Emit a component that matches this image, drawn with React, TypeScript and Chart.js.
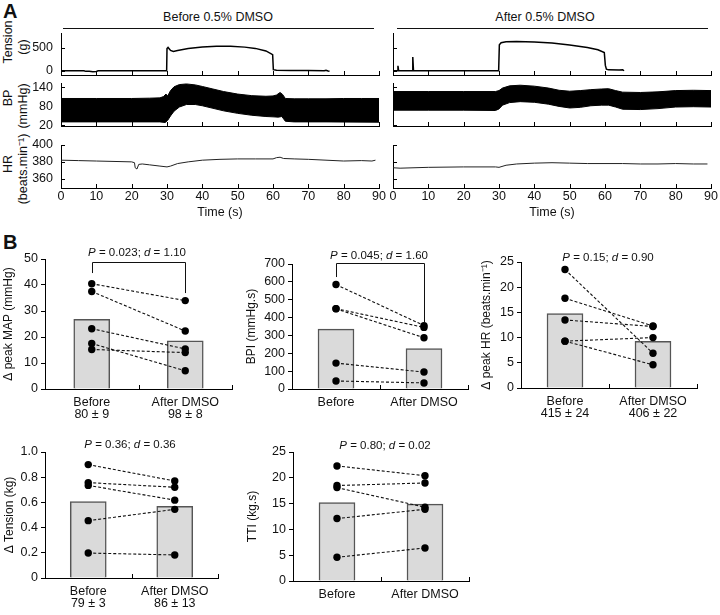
import React, { useEffect, useRef } from 'react';
import { Chart, registerables } from 'chart.js';
Chart.register(...registerables);

const FONT = "'Liberation Sans', Arial, Helvetica, sans-serif";
Chart.defaults.font.family = FONT;
Chart.defaults.color = '#111';

// ---------------- Panel A data (time s, value) ----------------
const timeTicks = [0, 10, 20, 30, 40, 50, 60, 70, 80, 90];
const tensionTicks = [0, 500];
const bpTicks = [20, 80, 140];
const hrTicks = [360, 380, 400];

const tensionBefore: [number, number][] = [
  [0, 6], [6.5, 6], [7, -8], [8, -6], [9, -14], [10, -10], [10.5, 3], [29.9, 3],
  [30, 480], [30.3, 505], [31, 440], [31.8, 420], [33, 440], [36, 482], [40, 515],
  [44, 532], [48, 530], [52, 512], [55, 485], [58, 430], [59.9, 350], [60.1, 28],
  [61, 15], [65, 12], [70, 8], [74.5, 6], [75, 16], [75.6, 2], [76, -4],
];
const tensionAfter: [number, number][] = [
  [0, 5], [1.2, 5], [1.4, 110], [1.6, 5], [5.4, 5], [5.6, 300], [5.8, 5], [29.9, 5],
  [30.1, 560], [30.6, 605], [32, 625], [35, 632], [40, 622], [45, 598], [50, 560],
  [55, 505], [58, 455], [59.8, 398], [60.1, 120], [60.4, 40], [61, 24], [64, 22],
  [65, 26], [65.4, 5],
];

const bpBeforeUpper: [number, number][] = [
  [0, 105], [10, 105], [20, 105], [25, 106], [28, 107], [29, 111], [29.7, 119], [30.2, 113],
  [31, 130], [32, 142], [33.5, 149], [35.5, 151], [38, 148], [40, 143], [43, 135], [46, 127],
  [50, 119], [54, 114], [58, 112], [60, 113], [61, 116], [62, 124], [62.7, 118], [63.5, 105],
  [66, 104], [70, 104], [75, 104], [80, 105], [85, 105], [90, 105],
];
const bpBeforeLower: [number, number][] = [
  [0, 31], [10, 31], [20, 31], [28, 31], [29.5, 29], [30.2, 36], [31, 50], [32, 65],
  [33.5, 78], [35.5, 86], [38, 86], [40, 82], [43, 74], [46, 66], [50, 58], [54, 52],
  [58, 48], [60, 47], [61.5, 46], [62.5, 48], [63.5, 33], [66, 31], [75, 31], [90, 30],
];
const bpAfterUpper: [number, number][] = [
  [0, 127], [10, 127], [20, 127], [29, 127], [30, 130], [31, 138], [33, 145], [36, 147],
  [40, 144], [44, 138], [47, 131], [50, 128], [53, 130], [56, 133], [59, 135], [61, 136],
  [63, 130], [65, 125], [70, 124], [75, 126], [80, 130], [85, 131], [90, 130],
];
const bpAfterLower: [number, number][] = [
  [0, 68], [10, 68], [20, 68], [29, 67], [30, 72], [31, 84], [33, 92], [36, 95],
  [40, 93], [44, 87], [47, 80], [50, 75], [53, 77], [56, 82], [59, 84], [61, 84],
  [63, 78], [65, 71], [70, 70], [75, 73], [80, 78], [85, 79], [90, 78],
];

const hrBefore: [number, number][] = [
  [0, 382], [5, 381.5], [10, 381], [15, 380.5], [20, 380], [20.8, 379], [21, 373],
  [21.5, 371.5], [22, 377], [23, 377.5], [25, 376.5], [28, 375], [30, 374], [31, 375],
  [33, 378], [36, 380], [40, 382], [45, 383], [50, 383.5], [55, 383.5], [60, 383.5],
  [61, 385], [62, 385.5], [63, 384], [66, 383.5], [70, 383], [75, 382], [80, 381],
  [85, 381.5], [88, 381], [89, 382],
];
const hrAfter: [number, number][] = [
  [0, 373], [2, 372.5], [10, 373.5], [20, 374], [29, 374], [30, 373.5], [32, 376],
  [35, 377.5], [40, 378.5], [45, 379], [50, 378.5], [55, 378], [60, 378], [65, 378],
  [70, 377.5], [75, 377.5], [80, 378], [85, 377.5], [89, 377.5],
];

// ---------------- Panel B data ----------------
const mapLabels = [['Before', '80 ± 9'], ['After DMSO', '98 ± 8']];
const mapBars = [26.8, 18.5];
const mapBefore = [40.5, 37.5, 23.2, 17.5, 15.2];
const mapAfter = [34.0, 22.3, 15.4, 7.0, 14.0];

const bpiLabels = ['Before', 'After DMSO'];
const bpiBars = [335, 227];
const bpiBefore = [585, 450, 449, 145, 45];
const bpiAfter = [355, 345, 287, 95, 34];

const hrLabels = [['Before', '415 ± 24'], ['After DMSO', '406 ± 22']];
const hrBars = [14.75, 9.25];
const hrPeakBefore = [23.5, 17.8, 13.5, 9.3, 9.3];
const hrPeakAfter = [6.9, 12.3, 12.2, 10.0, 4.6];

const tenLabels = [['Before', '79 ± 3'], ['After DMSO', '86 ± 13']];
const tenBars = [0.607, 0.568];
const tenBefore = [0.90, 0.757, 0.735, 0.455, 0.198];
const tenAfter = [0.77, 0.72, 0.618, 0.545, 0.183];

const ttiLabels = ['Before', 'After DMSO'];
const ttiBars = [15.2, 14.9];
const ttiBefore = [22.3, 18.5, 18.1, 12.1, 4.6];
const ttiAfter = [20.4, 19.0, 14.3, 13.9, 6.4];

// ---------------- plugins ----------------
const inTicks = {
  id: 'inTicks',
  afterDraw(chart: any, _a: any, opts: any) {
    if (!opts) return;
    const { ctx, chartArea } = chart;
    const len = opts.len ?? 4;
    ctx.save();
    ctx.strokeStyle = '#000';
    ctx.lineWidth = 1;
    ctx.beginPath();
    if (opts.x) {
      const s = chart.scales.x;
      s.ticks.forEach((t: any) => {
        const px = Math.round(s.getPixelForValue(t.value)) + 0.5;
        ctx.moveTo(px, chartArea.bottom);
        ctx.lineTo(px, chartArea.bottom - len);
      });
    }
    if (opts.y) {
      const s = chart.scales.y;
      s.ticks.forEach((t: any) => {
        const py = Math.round(s.getPixelForValue(t.value)) + 0.5;
        ctx.moveTo(chartArea.left, py);
        ctx.lineTo(chartArea.left + len, py);
      });
    }
    if (opts.xBound) {
      const s = chart.scales.x;
      const mid = (s.getPixelForValue(0) + s.getPixelForValue(1)) / 2;
      [mid, chartArea.right - 0.5].forEach((px: number) => {
        const p = Math.round(px) + 0.5;
        ctx.moveTo(p, chartArea.bottom);
        ctx.lineTo(p, chartArea.bottom - len);
      });
    }
    ctx.stroke();
    ctx.restore();
  },
};

const bracket = {
  id: 'bracket',
  afterDatasetsDraw(chart: any, _a: any, opts: any) {
    if (!opts || opts.top == null) return;
    const { ctx } = chart;
    const xs = chart.scales.x, ys = chart.scales.y;
    const x0 = Math.round(xs.getPixelForValue(0)) + 0.5;
    const x1 = Math.round(xs.getPixelForValue(1)) + 0.5;
    const yt = Math.round(ys.getPixelForValue(opts.top)) + 0.5;
    ctx.save();
    ctx.strokeStyle = '#111';
    ctx.lineWidth = 1;
    ctx.beginPath();
    ctx.moveTo(x0, ys.getPixelForValue(opts.left));
    ctx.lineTo(x0, yt);
    ctx.lineTo(x1, yt);
    ctx.lineTo(x1, ys.getPixelForValue(opts.right));
    ctx.stroke();
    ctx.restore();
  },
};

const toXY = (arr: [number, number][]) => arr.map(([x, y]) => ({ x, y }));

const fitY = (W: number) => (s: any) => {
  s.width = W;
  s.paddingTop = 0; s.paddingBottom = 0; s.paddingLeft = 0; s.paddingRight = 0;
};
const fitX = (H: number) => (s: any) => {
  s.height = H;
  s.paddingTop = 0; s.paddingBottom = 0; s.paddingLeft = 0; s.paddingRight = 0;
};

// ---------------- config builders ----------------
type TraceP = {
  datasets: any[];
  ymin: number; ymax: number; yticks: number[];
  yLabels: boolean; xLabels: boolean;
  W: number; T: number; H: number; R: number;
};

function traceConfig(p: TraceP): any {
  return {
    type: 'line',
    data: { datasets: p.datasets },
    plugins: [inTicks],
    options: {
      animation: false,
      responsive: false,
      devicePixelRatio: 1,
      layout: { padding: { left: 0, top: p.T, right: p.R, bottom: 0 } },
      plugins: { legend: { display: false }, tooltip: { enabled: false }, inTicks: { x: true, y: true, len: 4 } },
      elements: { point: { radius: 0 }, line: { tension: 0 } },
      scales: {
        x: {
          type: 'linear', min: 0, max: 90,
          afterBuildTicks: (s: any) => { s.ticks = timeTicks.map((v) => ({ value: v })); },
          afterFit: fitX(p.H),
          grid: { display: false, drawTicks: false },
          border: { display: true, color: '#000', width: 1 },
          ticks: { display: p.xLabels, padding: 1, maxRotation: 0, autoSkip: false, color: '#111', font: { size: 12.5, family: FONT } },
          title: { display: p.xLabels, text: 'Time (s)', color: '#111', padding: { top: 0, bottom: 0 }, font: { size: 12.5, family: FONT } },
        },
        y: {
          type: 'linear', min: p.ymin, max: p.ymax,
          afterBuildTicks: (s: any) => { s.ticks = p.yticks.map((v) => ({ value: v })); },
          afterFit: fitY(p.W),
          grid: { display: false, drawTicks: false },
          border: { display: true, color: '#000', width: 1 },
          ticks: { display: p.yLabels, autoSkip: false, padding: 8, color: '#111', font: { size: 12.5, family: FONT } },
        },
      },
    },
  };
}

type BarP = {
  labels: any[]; bars: number[]; before: number[]; after: number[];
  ymax: number; step: number; title: string; titlePad: number;
  W: number; T: number; H: number; R: number;
  bracket?: { top: number; left: number; right: number };
  fmt?: (v: number) => string;
};

function barConfig(p: BarP): any {
  const lines = p.before.map((b, i) => ({
    type: 'line',
    data: [b, p.after[i]],
    borderColor: '#111',
    borderWidth: 1.1,
    borderDash: [3, 2],
    pointRadius: 3.7,
    pointBackgroundColor: '#000',
    pointBorderColor: '#000',
    pointBorderWidth: 0,
    fill: false,
    order: 1,
  }));
  return {
    type: 'bar',
    data: {
      labels: p.labels,
      datasets: [
        { type: 'bar', data: p.bars, backgroundColor: '#dadada', borderColor: '#555', borderWidth: 1.5, barThickness: 36, order: 2 },
        ...lines,
      ],
    },
    plugins: [inTicks, bracket],
    options: {
      animation: false,
      responsive: false,
      devicePixelRatio: 1,
      layout: { padding: { left: 0, top: p.T, right: p.R, bottom: 0 } },
      plugins: {
        legend: { display: false }, tooltip: { enabled: false },
        inTicks: { xBound: true, len: 4 },
        bracket: p.bracket ?? {},
      },
      scales: {
        x: {
          type: 'category', offset: true,
          afterFit: fitX(p.H),
          grid: { display: false, drawTicks: false },
          border: { display: true, color: '#000', width: 1 },
          ticks: { padding: 7, maxRotation: 0, autoSkip: false, color: '#111', font: { size: 12.5, family: FONT, lineHeight: 0.98 } },
        },
        y: {
          type: 'linear', min: 0, max: p.ymax,
          afterFit: fitY(p.W),
          grid: { display: true, drawOnChartArea: false, drawTicks: true, tickLength: 4, color: '#000' },
          border: { display: true, color: '#000', width: 1 },
          ticks: {
            stepSize: p.step, autoSkip: false, padding: 3, color: '#111', font: { size: 12.5, family: FONT },
            callback: p.fmt ? (v: any) => p.fmt!(Number(v)) : undefined,
          },
          title: { display: true, text: p.title, color: '#111', padding: { top: p.titlePad, bottom: 0 }, font: { size: 12, family: FONT } },
        },
      },
    },
  };
}

// ---------------- components ----------------
function ChartBox({ left, top, width, height, make }: { left: number; top: number; width: number; height: number; make: () => any }) {
  const ref = useRef<HTMLCanvasElement>(null);
  useEffect(() => {
    const c = new Chart(ref.current!, make());
    return () => c.destroy();
  }, []);
  return (
    <canvas ref={ref} width={width} height={height}
      style={{ position: 'absolute', left, top, width, height }} />
  );
}

const txt: React.CSSProperties = { position: 'absolute', fontFamily: FONT, color: '#111', whiteSpace: 'nowrap', lineHeight: 1 };

function VText({ x, y, children }: { x: number; y: number; children: React.ReactNode }) {
  return (
    <div style={{ ...txt, left: x, top: y, fontSize: 12.5, transform: 'translate(-50%, -50%) rotate(-90deg)' }}>{children}</div>
  );
}
function CText({ x, y, size = 12.5, children }: { x: number; y: number; size?: number; children: React.ReactNode }) {
  return (
    <div style={{ ...txt, left: x, top: y, fontSize: size, transform: 'translate(-50%, -50%)' }}>{children}</div>
  );
}
function Stat({ x, y, p, d }: { x: number; y: number; p: string; d: string }) {
  return (
    <CText x={x} y={y} size={11.5}><i>P</i> = {p}; <i>d</i> = {d}</CText>
  );
}

export default function App() {
  const bW = 61, aW = 8;
  const plotW = 318;
  return (
    <div style={{ position: 'absolute', left: 0, top: 0, width: 720, height: 615, background: '#fff', overflow: 'hidden' }}>
      {/* Panel letters */}
      <div style={{ ...txt, left: 3, top: 1, fontSize: 20, fontWeight: 'bold' }}>A</div>
      <div style={{ ...txt, left: 3, top: 232, fontSize: 20, fontWeight: 'bold' }}>B</div>

      {/* Headers */}
      <CText x={218} y={17}>Before 0.5% DMSO</CText>
      <div style={{ position: 'absolute', left: 63, top: 28, width: 311, height: 0, borderTop: '1.5px solid #111' }} />
      <CText x={545} y={17}>After 0.5% DMSO</CText>
      <div style={{ position: 'absolute', left: 397, top: 28, width: 311, height: 0, borderTop: '1.5px solid #111' }} />

      {/* A axis titles */}
      <VText x={8} y={42}>Tension</VText>
      <VText x={23} y={47}>(g)</VText>
      <VText x={8} y={98}>BP</VText>
      <VText x={23} y={106}>(mmHg)</VText>
      <VText x={8} y={164}>HR</VText>
      <VText x={23} y={169}>(beats.min⁻¹)</VText>

      {/* A: Before column */}
      <ChartBox left={0} top={29} width={bW + plotW + 2} height={49} make={() => traceConfig({
        datasets: [{ data: toXY(tensionBefore), borderColor: '#000', borderWidth: 1.5, pointRadius: 0 }],
        ymin: -86, ymax: 815, yticks: tensionTicks, yLabels: true, xLabels: false, W: bW, T: 4, H: 3, R: 2,
      })} />
      <ChartBox left={0} top={79} width={bW + plotW + 2} height={50} make={() => traceConfig({
        datasets: [
          { data: toXY(bpBeforeLower), borderColor: '#000', borderWidth: 1, pointRadius: 0, fill: false },
          { data: toXY(bpBeforeUpper), borderColor: '#000', borderWidth: 1, pointRadius: 0, fill: '-1', backgroundColor: '#000' },
        ],
        ymin: 18, ymax: 154, yticks: bpTicks, yLabels: true, xLabels: false, W: bW, T: 4, H: 3, R: 2,
      })} />
      <ChartBox left={0} top={137} width={bW + plotW + 12} height={83} make={() => traceConfig({
        datasets: [{ data: toXY(hrBefore), borderColor: '#222', borderWidth: 1, pointRadius: 0 }],
        ymin: 349, ymax: 400, yticks: hrTicks, yLabels: true, xLabels: true, W: bW, T: 8, H: 32, R: 12,
      })} />

      {/* A: After column */}
      <ChartBox left={393 - aW} top={29} width={aW + plotW + 2} height={49} make={() => traceConfig({
        datasets: [{ data: toXY(tensionAfter), borderColor: '#000', borderWidth: 1.5, pointRadius: 0 }],
        ymin: -86, ymax: 815, yticks: tensionTicks, yLabels: false, xLabels: false, W: aW, T: 4, H: 3, R: 2,
      })} />
      <ChartBox left={393 - aW} top={79} width={aW + plotW + 2} height={50} make={() => traceConfig({
        datasets: [
          { data: toXY(bpAfterLower), borderColor: '#000', borderWidth: 1, pointRadius: 0, fill: false },
          { data: toXY(bpAfterUpper), borderColor: '#000', borderWidth: 1, pointRadius: 0, fill: '-1', backgroundColor: '#000' },
        ],
        ymin: 18, ymax: 154, yticks: bpTicks, yLabels: false, xLabels: false, W: aW, T: 4, H: 3, R: 2,
      })} />
      <ChartBox left={393 - aW} top={137} width={aW + plotW + 9} height={83} make={() => traceConfig({
        datasets: [{ data: toXY(hrAfter), borderColor: '#222', borderWidth: 1, pointRadius: 0 }],
        ymin: 349, ymax: 400, yticks: hrTicks, yLabels: false, xLabels: true, W: aW, T: 8, H: 32, R: 9,
      })} />

      {/* B charts */}
      <ChartBox left={0} top={249} width={237} height={175} make={() => barConfig({
        labels: mapLabels, bars: mapBars, before: mapBefore, after: mapAfter, ymax: 50, step: 10,
        title: 'Δ peak MAP (mmHg)', titlePad: 1.3, W: 45, T: 10, H: 35, R: 5,
        bracket: { top: 48.8, left: 44.6, right: 36.9 },
      })} />
      <Stat x={137} y={253} p="0.023" d="1.10" />

      <ChartBox left={240} top={254} width={233} height={170} make={() => barConfig({
        labels: bpiLabels, bars: bpiBars, before: bpiBefore, after: bpiAfter, ymax: 700, step: 100,
        title: 'BPI (mmHg.s)', titlePad: 4.8, W: 52, T: 10, H: 35, R: 5,
        bracket: { top: 705, left: 627, right: 375 },
      })} />
      <Stat x={379} y={256} p="0.045" d="1.60" />

      <ChartBox left={478} top={252} width={224} height={171} make={() => barConfig({
        labels: hrLabels, bars: hrBars, before: hrPeakBefore, after: hrPeakAfter, ymax: 25, step: 5,
        title: 'Δ peak HR (beats.min⁻¹)', titlePad: 1.8, W: 43, T: 10, H: 35, R: 5,
      })} />
      <Stat x={608} y={258} p="0.15" d="0.90" />

      <ChartBox left={0} top={442} width={223} height={173} make={() => barConfig({
        labels: tenLabels, bars: tenBars, before: tenBefore, after: tenAfter, ymax: 1.0, step: 0.2,
        title: 'Δ Tension (kg)', titlePad: 2.8, W: 45, T: 10, H: 37, R: 5,
        fmt: (v) => (v === 0 ? '0' : v.toFixed(1)),
      })} />
      <Stat x={130} y={445} p="0.36" d="0.36" />

      <ChartBox left={240} top={442} width={234} height={173} make={() => barConfig({
        labels: ttiLabels, bars: ttiBars, before: ttiBefore, after: ttiAfter, ymax: 25, step: 5,
        title: 'TTI (kg.s)', titlePad: 5.8, W: 53, T: 10, H: 34, R: 5,
      })} />
      <Stat x={385} y={446} p="0.80" d="0.02" />
    </div>
  );
}
